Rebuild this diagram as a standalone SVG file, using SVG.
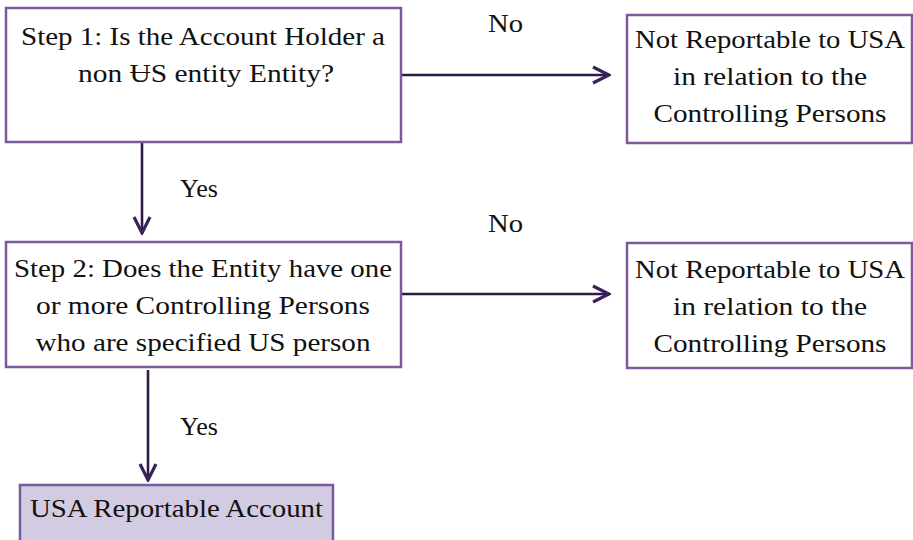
<svg xmlns="http://www.w3.org/2000/svg" width="913" height="540" viewBox="0 0 913 540">
<defs>
<style>
.box{fill:#ffffff;stroke:#7b5a9c;stroke-width:2.5}
.fin{fill:#d3cbe1;stroke:#7b5a9c;stroke-width:2.5}
.t{font-family:"Liberation Serif","DejaVu Serif",serif;font-size:25px;fill:#111111;text-anchor:middle}
.lbl{font-family:"Liberation Serif","DejaVu Serif",serif;font-size:25px;fill:#111111}
.c{stroke:#2f1b48;stroke-width:2.6;fill:none}
</style>
<marker id="ah" viewBox="0 0 20 20" refX="18" refY="10" markerWidth="20" markerHeight="20" markerUnits="userSpaceOnUse" orient="auto">
<path d="M2,2 L18,10 L2,18" fill="none" stroke="#3a2159" stroke-width="3.2"/>
</marker>
</defs>
<rect width="913" height="540" fill="#ffffff"/>
<g id="connectors">
<line class="c" x1="142" y1="142" x2="142" y2="233" marker-end="url(#ah)"/>
<line class="c" x1="401" y1="75" x2="609" y2="75" marker-end="url(#ah)"/>
<line class="c" x1="401" y1="294" x2="609" y2="294" marker-end="url(#ah)"/>
<line class="c" x1="148" y1="370" x2="148" y2="480" marker-end="url(#ah)"/>
<text class="lbl" x="488" y="32" textLength="35" lengthAdjust="spacingAndGlyphs">No</text>
<text class="lbl" x="180" y="197" textLength="38" lengthAdjust="spacingAndGlyphs">Yes</text>
<text class="lbl" x="488" y="232" textLength="35" lengthAdjust="spacingAndGlyphs">No</text>
<text class="lbl" x="180" y="435" textLength="38" lengthAdjust="spacingAndGlyphs">Yes</text>
</g>
<g id="step1">
<rect class="box" x="6" y="8" width="395" height="134"/>
<text class="t" x="203" y="45" textLength="364" lengthAdjust="spacingAndGlyphs">Step 1: Is the Account Holder a</text>
<text class="t" x="206" y="82" textLength="256" lengthAdjust="spacingAndGlyphs">non ɄS entity Entity?</text>
</g>
<g id="notrep1">
<rect class="box" x="627" y="15" width="285" height="128"/>
<text class="t" x="770" y="48" textLength="270" lengthAdjust="spacingAndGlyphs">Not Reportable to USA</text>
<text class="t" x="770" y="85" textLength="194" lengthAdjust="spacingAndGlyphs">in relation to the</text>
<text class="t" x="770" y="122" textLength="233" lengthAdjust="spacingAndGlyphs">Controlling Persons</text>
</g>
<g id="step2">
<rect class="box" x="6" y="242" width="395" height="125"/>
<text class="t" x="203" y="277" textLength="378" lengthAdjust="spacingAndGlyphs">Step 2: Does the Entity have one</text>
<text class="t" x="203" y="314" textLength="334" lengthAdjust="spacingAndGlyphs">or more Controlling Persons</text>
<text class="t" x="203" y="351" textLength="335" lengthAdjust="spacingAndGlyphs">who are specified US person</text>
</g>
<g id="notrep2">
<rect class="box" x="627" y="243" width="285" height="125"/>
<text class="t" x="770" y="278" textLength="270" lengthAdjust="spacingAndGlyphs">Not Reportable to USA</text>
<text class="t" x="770" y="315" textLength="194" lengthAdjust="spacingAndGlyphs">in relation to the</text>
<text class="t" x="770" y="352" textLength="233" lengthAdjust="spacingAndGlyphs">Controlling Persons</text>
</g>
<g id="reportable">
<rect class="fin" x="20" y="485" width="313" height="70"/>
<text class="t" x="176.5" y="517" textLength="293" lengthAdjust="spacingAndGlyphs">USA Reportable Account</text>
</g>
</svg>
